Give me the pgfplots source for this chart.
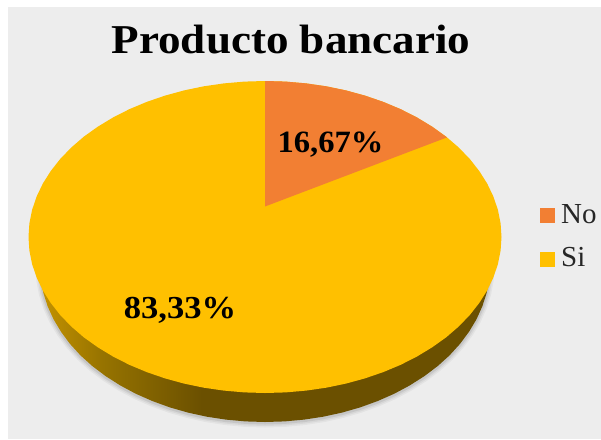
\documentclass[border=0pt]{standalone}
\usepackage{pgfplots}
\pgfplotsset{compat=1.18}
\usepackage{pgfplotstable}
\usepackage{fontspec}
\setmainfont{Liberation Serif}
\definecolor{bgc}{HTML}{EDEDED}
\definecolor{noc}{HTML}{F27F33}
\definecolor{sic}{HTML}{FFC000}
\definecolor{ga}{HTML}{C49200}
\definecolor{gb}{HTML}{967300}
\definecolor{gc}{HTML}{6B5000}
\pgfdeclarehorizontalshading{sideshade}{100bp}{color(0bp)=(ga); color(25bp)=(ga); color(32bp)=(gb); color(43bp)=(gc); color(100bp)=(gc)}
\pgfplotstableread{
x y
490 266
489.1 279.6
486.6 293.1
482.3 306.4
476.4 319.4
468.9 331.9
459.9 344
449.4 355.5
437.4 366.3
424.1 376.3
409.6 385.5
394.1 393.8
377.5 401.1
360.1 407.4
342 412.6
323.2 416.7
304.1 419.6
284.6 421.4
265 422
245.4 421.4
225.9 419.6
206.8 416.7
188 412.6
169.9 407.4
152.5 401.1
135.9 393.8
120.4 385.5
105.9 376.3
92.6 366.3
80.6 355.5
70.1 344
61.1 331.9
53.6 319.4
47.7 306.4
43.4 293.1
40.9 279.6
40 266
}\lowerrim
\pgfplotstableread{
x y
265 81
285.6 81.6
306.1 83.4
326.2 86.3
345.9 90.4
364.9 95.6
383.25 101.9
400.7 109.2
417 117.5
432.2 126.7
446.2 136.7
458.7 147.5
469.8 159
479.3 171.1
487.2 183.6
493.4 196.6
497.9 209.9
500.6 223.4
501.5 237
500.6 250.6
497.9 264.1
493.4 277.4
487.2 290.4
479.3 302.9
469.8 315
458.7 326.5
446.2 337.3
432.2 347.3
417 356.5
400.7 364.8
383.25 372.1
364.9 378.4
345.9 383.6
326.2 387.7
306.1 390.6
285.6 392.4
265 393
244.4 392.4
223.9 390.6
203.8 387.7
184.1 383.6
165.1 378.4
146.75 372.1
129.3 364.8
113 356.5
97.8 347.3
83.8 337.3
71.3 326.5
60.2 315
50.7 302.9
42.8 290.4
36.6 277.4
32.1 264.1
29.4 250.6
28.5 237
29.4 223.4
32.1 209.9
36.6 196.6
42.8 183.6
50.7 171.1
60.2 159
71.3 147.5
83.8 136.7
97.8 126.7
113 117.5
129.3 109.2
146.75 101.9
165.1 95.6
184.1 90.4
203.8 86.3
223.9 83.4
244.4 81.6
}\toprim
\pgfplotstableread{
x y
265 206.5
265 81
285.6 81.6
306.1 83.4
326.2 86.3
345.9 90.4
364.9 95.6
383.25 101.9
400.7 109.2
417 117.5
432.2 126.7
447 137.4
}\nowedge
\begin{document}
\begin{tikzpicture}
\begin{axis}[
  scale only axis, width=601pt, height=439pt,
  xmin=0, xmax=601, ymin=0, ymax=439, y dir=reverse,
  hide axis, clip=true,
]
\addplot[draw=none, fill=white] coordinates {(0,0) (601,0) (601,439) (0,439)} -- cycle;
\addplot[draw=none, fill=bgc] coordinates {(8,7) (601,7) (601,439) (8,439)} -- cycle;
% soft shadow
\addplot[draw=black, opacity=0.04, line width=9pt, fill=none, yshift=-1pt, line join=round] table {\lowerrim};
\addplot[draw=black, opacity=0.05, line width=6pt, fill=none, yshift=-1pt, line join=round] table {\lowerrim};
\addplot[draw=black, opacity=0.08, line width=3pt, fill=none, yshift=-1pt, line join=round] table {\lowerrim};
% side of the pie
\addplot[draw=none, shade, shading=sideshade] table {\lowerrim} -- cycle;
% top
\addplot[draw=none, fill=sic] table {\toprim} -- cycle;
\addplot[draw=none, fill=noc] table {\nowedge} -- cycle;
% legend keys
\addplot[draw=none, fill=noc] coordinates {(539.5,207.7) (554.7,207.7) (554.7,222.7) (539.5,222.7)} -- cycle;
\addplot[draw=none, fill=sic] coordinates {(539.5,251.7) (554.7,251.7) (554.7,266.7) (539.5,266.7)} -- cycle;
\node[anchor=base, inner sep=0pt, font=\fontsize{41}{50}\selectfont\bfseries, transform shape, xscale=1.1] at (axis cs:291,53) {Producto bancario};
\node[anchor=base, inner sep=0pt, font=\fontsize{31}{36}\selectfont\bfseries, transform shape, xscale=1.05] at (axis cs:330.5,152) {16,67\%};
\node[anchor=base, inner sep=0pt, font=\fontsize{32}{36}\selectfont\bfseries, transform shape, xscale=1.08] at (axis cs:180,318) {83,33\%};
\node[anchor=base west, inner sep=0pt, font=\fontsize{29}{32}\selectfont, text=black!85] at (axis cs:561,223) {No};
\node[anchor=base west, inner sep=0pt, font=\fontsize{29}{32}\selectfont, text=black!85] at (axis cs:561,266.5) {Si};
\end{axis}
\end{tikzpicture}
\end{document}
